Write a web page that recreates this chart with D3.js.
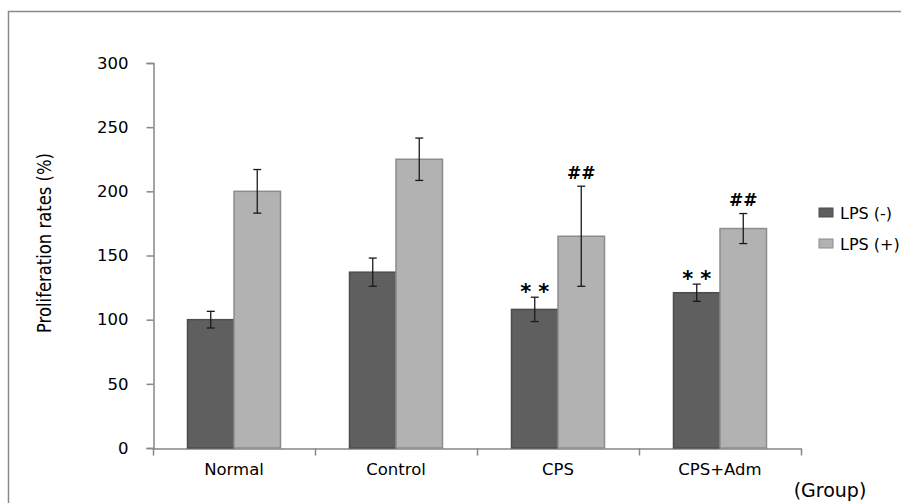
<!DOCTYPE html>
<html>
<head>
<meta charset="utf-8">
<script src="https://cdn.jsdelivr.net/npm/d3@7"></script>
<style>
  body { margin: 0; background: #fff; }
  text { font-family: "DejaVu Sans", "Open Sans", sans-serif; fill: #000; }
</style>
</head>
<body>
<div id="chart"></div>
<script>
// Data
const groups = ['Normal', 'Control', 'CPS', 'CPS+Adm']
const seriesNames = ['LPS (-)', 'LPS (+)']
const lpsMinus = [100, 137, 108, 121]
const lpsMinusErr = [6.5, 11, 9.5, 6.7]
const lpsPlus = [200, 225, 165, 171]
const lpsPlusErr = [17, 16.5, 39, 11.7]
const marksMinus = ['', '', '**', '**']
const marksPlus = ['', '', '##', '##']
const yTicks = [0, 50, 100, 150, 200, 250, 300]

const width = 901, height = 503
const colors = ['#5f5f5f', '#b2b2b2']
const strokes = ['#4d4d4d', '#8c8c8c']

const svg = d3.select('#chart').append('svg')
  .attr('width', width)
  .attr('height', height)

// outer frame
svg.append('rect')
  .attr('x', 8.5).attr('y', 11.5)
  .attr('width', 900).attr('height', 500)
  .attr('fill', 'none')
  .attr('stroke', '#8a8a8a')
  .attr('stroke-width', 1.5)

// scales
const x = d3.scaleBand()
  .domain(groups)
  .range([153, 801])

const xSeries = d3.scaleBand()
  .domain(seriesNames)
  .range([0, 93])

const y = d3.scaleLinear()
  .domain([0, 300])
  .range([448, 63])

// axes
const yAxis = svg.append('g')
  .attr('transform', 'translate(153.5,0)')
  .call(d3.axisLeft(y).tickValues(yTicks).tickSize(7).tickPadding(18))
yAxis.selectAll('text').style('font-size', '16.5px')

const xAxis = svg.append('g')
  .attr('transform', 'translate(0,448.5)')
  .call(d3.axisBottom(x).tickSize(0).tickPadding(15))
xAxis.selectAll('text').style('font-size', '16.5px')

// category separators on the x axis
xAxis.selectAll('.sep')
  .data([153, 315, 477, 639, 801])
  .join('line')
  .attr('class', 'sep')
  .attr('x1', d => d + 0.5).attr('x2', d => d + 0.5)
  .attr('y1', 0).attr('y2', 7)

svg.selectAll('.domain, .tick line, .sep')
  .attr('stroke', '#868686')
  .attr('stroke-width', 1.5)

// bars
const rows = groups.map((g, i) => [
  { g, s: seriesNames[0], v: lpsMinus[i], e: lpsMinusErr[i], m: marksMinus[i], k: 0 },
  { g, s: seriesNames[1], v: lpsPlus[i], e: lpsPlusErr[i], m: marksPlus[i], k: 1 },
])

const gGroups = svg.append('g')
  .selectAll('g')
  .data(rows)
  .join('g')
  .attr('transform', d => `translate(${x(d[0].g) + x.bandwidth() / 2 - 46.5},0)`)

gGroups.selectAll('rect')
  .data(d => d)
  .join('rect')
  .attr('x', d => xSeries(d.s))
  .attr('y', d => y(d.v))
  .attr('width', xSeries.bandwidth())
  .attr('height', d => y(0) - y(d.v))
  .attr('fill', d => colors[d.k])
  .attr('stroke', d => strokes[d.k])
  .attr('stroke-width', 1.5)

// error bars
const err = gGroups.selectAll('.err')
  .data(d => d)
  .join('g')
  .attr('class', 'err')
  .attr('stroke', '#1a1a1a')
  .attr('stroke-width', 1.3)

err.append('line')
  .attr('x1', d => xSeries(d.s) + xSeries.bandwidth() / 2)
  .attr('x2', d => xSeries(d.s) + xSeries.bandwidth() / 2)
  .attr('y1', d => y(d.v + d.e))
  .attr('y2', d => y(d.v - d.e))

err.selectAll('.cap')
  .data(d => [{ c: xSeries(d.s) + xSeries.bandwidth() / 2, yy: y(d.v + d.e) },
              { c: xSeries(d.s) + xSeries.bandwidth() / 2, yy: y(d.v - d.e) }])
  .join('line')
  .attr('x1', d => d.c - 4).attr('x2', d => d.c + 4)
  .attr('y1', d => d.yy).attr('y2', d => d.yy)

// significance marks
gGroups.selectAll('.mark')
  .data(d => d.filter(r => r.m))
  .join('text')
  .attr('x', d => xSeries(d.s) + xSeries.bandwidth() / 2 + (d.m === '**' ? 3.5 : 0))
  .attr('y', d => y(d.v + d.e) + (d.m === '**' ? 2 : -7.5))
  .attr('text-anchor', 'middle')
  .style('font-size', d => d.m === '**' ? '21px' : '17px')
  .style('font-weight', 'bold')
  .style('letter-spacing', d => d.m === '**' ? '7px' : '0px')
  .text(d => d.m)

// legend
const legend = svg.append('g')
  .selectAll('g')
  .data(seriesNames)
  .join('g')
  .attr('transform', (d, i) => `translate(819,${208 + i * 31})`)

legend.append('rect')
  .attr('width', 14).attr('height', 9)
  .attr('fill', (d, i) => colors[i])
  .attr('stroke', (d, i) => strokes[i])
  .attr('stroke-width', 1)

legend.append('text')
  .attr('x', 21).attr('y', 5)
  .attr('dy', '0.35em')
  .style('font-size', '16px')
  .text(d => d)

// axis titles
svg.append('text')
  .attr('transform', 'translate(51,243) rotate(-90)')
  .attr('text-anchor', 'middle')
  .attr('textLength', 180)
  .attr('lengthAdjust', 'spacingAndGlyphs')
  .style('font-size', '19px')
  .text('Proliferation rates (%)')

svg.append('text')
  .attr('x', 830).attr('y', 497)
  .attr('text-anchor', 'middle')
  .style('font-size', '19px')
  .text('(Group)')
</script>
</body>
</html>
